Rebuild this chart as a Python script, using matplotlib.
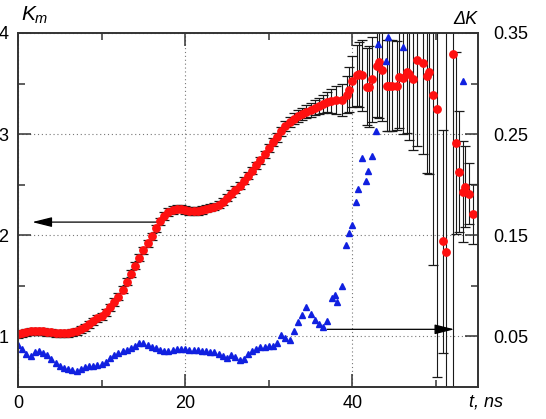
import numpy as np
import matplotlib
matplotlib.use("Agg")
import matplotlib.pyplot as plt
from matplotlib.ticker import FixedLocator

plt.rcParams['font.family'] = ['Liberation Sans', 'DejaVu Sans']
plt.rcParams['mathtext.fontset'] = 'custom'
plt.rcParams['mathtext.it'] = 'Liberation Sans:italic'
plt.rcParams['mathtext.rm'] = 'Liberation Sans'

# K_m, dense part sampled every 0.5 ns from 0 to 37 ns
t_dense = np.arange(0, 37.01, 0.5)
k_dense = [1.02, 1.03, 1.04, 1.05, 1.05, 1.05, 1.05, 1.04, 1.04, 1.03,
           1.03, 1.03, 1.03, 1.04, 1.05, 1.07, 1.09, 1.12, 1.15, 1.18,
           1.20, 1.24, 1.29, 1.34, 1.39, 1.46, 1.54, 1.62, 1.70, 1.78,
           1.85, 1.92, 1.99, 2.07, 2.14, 2.19, 2.23, 2.25, 2.26, 2.26,
           2.25, 2.24, 2.24, 2.24, 2.25, 2.26, 2.27, 2.28, 2.30, 2.33,
           2.37, 2.41, 2.45, 2.49, 2.54, 2.59, 2.64, 2.69, 2.74, 2.80,
           2.86, 2.92, 2.97, 3.03, 3.08, 3.12, 3.15, 3.18, 3.20, 3.22,
           3.24, 3.26, 3.28, 3.30, 3.32]
err_dense = [0.035] * 60 + [0.04, 0.04, 0.045, 0.045, 0.05, 0.05, 0.055,
                            0.06, 0.06, 0.065, 0.07, 0.075, 0.08, 0.09, 0.10]

# K_m, sparse part with large error bars
t_sparse = [37.5, 38.1, 38.8, 39.3, 39.6, 40.0, 40.5, 40.8, 41.2, 41.7,
            42.0, 42.4, 42.9, 43.2, 43.6, 44.1, 44.4, 44.8, 45.3, 45.6,
            46.0, 46.5, 46.8, 47.2, 47.7, 48.4, 48.9, 49.2, 49.6, 50.1,
            50.8, 51.2, 52.0, 52.4, 52.8, 53.2, 53.5, 53.9, 54.4]
k_sparse = [3.33, 3.34, 3.34, 3.39, 3.44, 3.52, 3.58, 3.59, 3.58, 3.47,
            3.47, 3.54, 3.67, 3.71, 3.63, 3.48, 3.48, 3.48, 3.48, 3.56,
            3.55, 3.61, 3.59, 3.54, 3.73, 3.70, 3.57, 3.61, 3.39, 3.25,
            1.94, 1.83, 3.79, 2.91, 2.63, 2.43, 2.48, 2.41, 2.21]
err_sparse = [0.12, 0.14, 0.16, 0.18, 0.22, 0.25, 0.30, 0.32, 0.35, 0.38,
              0.40, 0.42, 0.50, 0.55, 0.50, 0.45, 0.45, 0.45, 0.44, 0.50,
              0.55, 0.60, 0.65, 0.70, 0.85, 0.90, 0.95, 1.00, 1.68, 2.65,
              1.10, 2.50, 3.50, 0.90, 0.60, 0.50, 0.40, 0.30, 0.30]

# delta K (right axis)
dk_dense = [0.042, 0.038, 0.033, 0.031, 0.035, 0.036, 0.034, 0.032, 0.028, 0.024,
            0.021, 0.019, 0.018, 0.017, 0.016, 0.018, 0.020, 0.021, 0.021, 0.022,
            0.023, 0.025, 0.029, 0.032, 0.034, 0.036, 0.037, 0.039, 0.041, 0.043,
            0.043, 0.042, 0.040, 0.039, 0.037, 0.036, 0.036, 0.037, 0.038, 0.038,
            0.038, 0.037, 0.037, 0.037, 0.036, 0.036, 0.035, 0.035, 0.033, 0.031,
            0.029, 0.032, 0.030, 0.027, 0.028, 0.033, 0.036, 0.038, 0.040, 0.040,
            0.041, 0.041, 0.043, 0.051, 0.048, 0.046, 0.055, 0.064, 0.071, 0.079,
            0.072, 0.066, 0.062, 0.059, 0.065]
t_dk_sparse = [37.6, 37.9, 38.2, 38.8, 39.2, 39.6, 40.0, 40.4, 40.7, 41.2,
               41.6, 41.9, 42.4, 42.8, 43.1, 44.0, 44.3, 46.0, 53.2]
dk_sparse = [0.088, 0.091, 0.084, 0.100, 0.140, 0.152, 0.160, 0.183, 0.196, 0.226,
             0.204, 0.214, 0.228, 0.253, 0.339, 0.322, 0.346, 0.336, 0.302]

t_red = list(t_dense) + t_sparse
k_red = k_dense + k_sparse
k_err = err_dense + err_sparse
t_blue = list(t_dense) + t_dk_sparse
dk_blue = dk_dense + dk_sparse

fig = plt.figure(figsize=(5.46, 4.19), dpi=100)
ax = fig.add_axes([0.033, 0.0764, 0.842, 0.845])

ax.errorbar(t_red, k_red, yerr=k_err, fmt='o', ms=5.3, mfc='#ff1010', mec='#ff1010',
            ecolor='#1a1a1a', elinewidth=0.8, capsize=3.8, capthick=0.9, zorder=3)

ax.set_xlim(0, 55)
ax.set_ylim(0.5, 4)
ax.set_xticks([0, 20, 40])
ax.xaxis.set_minor_locator(FixedLocator([10, 30, 50]))
ax.set_yticks([1, 2, 3, 4])
ax.yaxis.set_minor_locator(FixedLocator([1.5, 2.5, 3.5]))
ax.tick_params(which='both', direction='in', top=True, right=False, width=1.1,
               labelsize=13, color='#333333')
ax.tick_params(which='major', length=9.5)
ax.tick_params(which='minor', length=5)
ax.tick_params(axis='y', pad=7)
ax.tick_params(axis='x', pad=6)
ax.grid(True, which='major', linestyle=(0, (1, 2.5)), color='#777777', lw=0.8)
ax.set_axisbelow(True)
for s in ax.spines.values():
    s.set_linewidth(1.2)
    s.set_color('#333333')

ax.annotate('', xy=(1.7, 2.13), xytext=(16.7, 2.13),
            arrowprops=dict(arrowstyle='-|>,head_length=0.6,head_width=0.15',
                            mutation_scale=20, color='black', lw=0.9,
                            shrinkA=0, shrinkB=0))
ax.annotate('', xy=(52.2, 1.07), xytext=(37.0, 1.07),
            arrowprops=dict(arrowstyle='-|>,head_length=0.6,head_width=0.15',
                            mutation_scale=20, color='black', lw=0.9,
                            shrinkA=0, shrinkB=0))

ax2 = ax.twinx()
ax2.plot(t_blue, dk_blue, '^', ms=5, color='#1020e0', mec='#1020e0', ls='none')
ax2.set_ylim(0, 0.35)
ax2.yaxis.set_major_locator(FixedLocator([0.05, 0.15, 0.25, 0.35]))
ax2.yaxis.set_minor_locator(FixedLocator([0.1, 0.2, 0.3]))
ax2.set_yticklabels(['0.05', '0.15', '0.25', '0.35'])
ax2.tick_params(which='both', direction='in', width=1.1, labelsize=13, pad=11,
                color='#333333')
ax2.tick_params(which='major', length=9.5)
ax2.tick_params(which='minor', length=5)
for s in ax2.spines.values():
    s.set_linewidth(1.2)
    s.set_color('#333333')

fig.text(21 / 546, 1 - 15 / 419, '$K_m$', fontsize=15, ha='left', va='center')
fig.text(477 / 546, 1 - 19 / 419, 'ΔK', fontsize=13, style='italic',
         ha='right', va='center')
fig.text(486 / 546, 1 - 402 / 419, 't, ns', fontsize=13, style='italic',
         ha='center', va='center')

fig.savefig('out.png', dpi=100)
